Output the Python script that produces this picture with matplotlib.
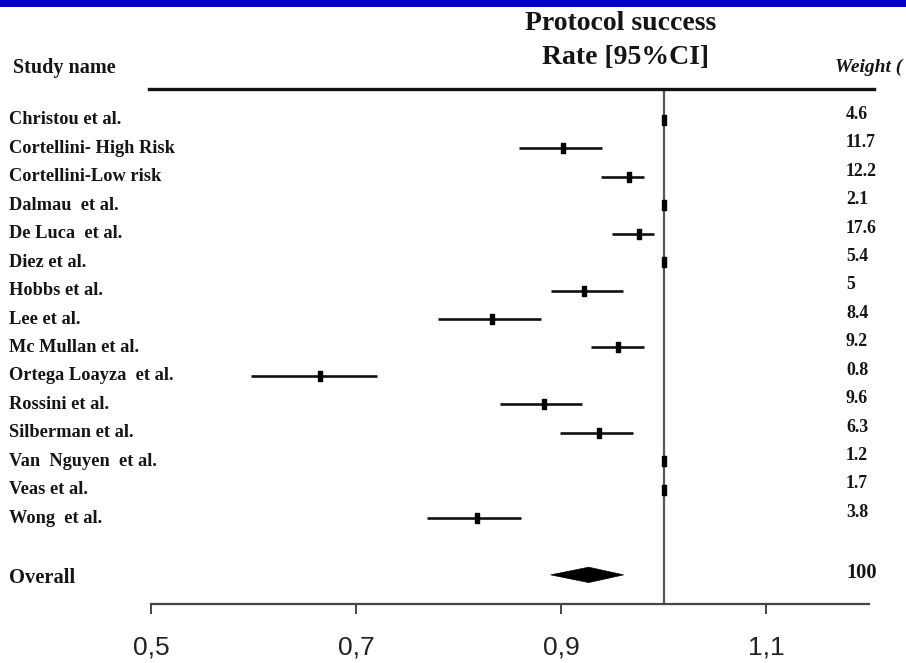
import matplotlib
matplotlib.use("Agg")
import matplotlib.pyplot as plt
import matplotlib.transforms as mtransforms
from matplotlib.path import Path
from matplotlib.patches import Rectangle, Polygon
from matplotlib import font_manager

# ---------------- data ----------------
studies = ["Christou et al.", "Cortellini- High Risk", "Cortellini-Low risk",
           "Dalmau  et al.", "De Luca  et al.", "Diez et al.", "Hobbs et al.",
           "Lee et al.", "Mc Mullan et al.", "Ortega Loayza  et al.",
           "Rossini et al.", "Silberman et al.", "Van  Nguyen  et al.",
           "Veas et al.", "Wong  et al."]
rate = [1.000, 0.902, 0.966, 1.000, 0.976, 1.000, 0.922, 0.833, 0.956,
        0.665, 0.883, 0.937, 1.000, 1.000, 0.818]
ci_low = [1.000, 0.859, 0.939, 1.000, 0.950, 1.000, 0.890, 0.780, 0.929,
          0.598, 0.840, 0.899, 1.000, 1.000, 0.769]
ci_high = [1.000, 0.940, 0.981, 1.000, 0.991, 1.000, 0.960, 0.880, 0.981,
           0.720, 0.920, 0.970, 1.000, 1.000, 0.861]
weights = ["4.6", "11.7", "12.2", "2.1", "17.6", "5.4", "5", "8.4", "9.2",
           "0.8", "9.6", "6.3", "1.2", "1.7", "3.8"]
overall_label = "Overall"
overall_rate, overall_low, overall_high = 0.927, 0.890, 0.961
overall_weight = "100"
xticks = [0.5, 0.7, 0.9, 1.1]
xticklabels = ["0,5", "0,7", "0,9", "1,1"]

# ---------------- fonts ----------------
serif = ["Liberation Serif", "DejaVu Serif"]
names = {f.name for f in font_manager.fontManager.ttflist}
tickfam = ["Liberation Sans Narrow", "Liberation Sans"] if "Liberation Sans Narrow" in names else ["Liberation Sans"]
txtcol = "#151515"

W, H = 906, 663
fig = plt.figure(figsize=(W / 100, H / 100), dpi=100)
fig.patch.set_facecolor("white")

# blue band at the top
fig.patches.append(Rectangle((0, 1 - 7 / H), 1, 7 / H, transform=fig.transFigure,
                             facecolor="#0000BE", edgecolor="none"))

bottom_px, top_px = 604, 89
ppu = 1025
ax = fig.add_axes([0, (H - bottom_px) / H, 1, (bottom_px - top_px) / H])
x_left = 0.5 - 151 / ppu
ax.set_xlim(x_left, x_left + W / ppu)
row0, step = 120, 28.43
ax.set_ylim((bottom_px - row0) / step, (top_px - row0) / step)

for s in ["left", "right"]:
    ax.spines[s].set_visible(False)
ax.spines["top"].set_bounds(0.498, 1.205)
ax.spines["top"].set_linewidth(2.4)
ax.spines["top"].set_color("#111111")
ax.spines["bottom"].set_bounds(0.5, 1.2)
ax.spines["bottom"].set_linewidth(1.6)
ax.spines["bottom"].set_color("#444444")
ax.set_yticks([])
ax.set_xticks(xticks)
ax.set_xticklabels(xticklabels, family=tickfam, fontsize=19, color="#222222")
ax.tick_params(axis="x", direction="out", length=7, width=1.4, color="#444444", pad=16)
ax.set_facecolor("none")

# reference line at 1
ax.axvline(1.0, color="#555555", lw=1.6, zorder=1)

# rectangle marker
rect = Path([(-0.26, -0.5), (0.26, -0.5), (0.26, 0.5), (-0.26, 0.5), (-0.26, -0.5)],
            [Path.MOVETO, Path.LINETO, Path.LINETO, Path.LINETO, Path.CLOSEPOLY])

ys = list(range(len(studies)))
for y, r, lo, hi in zip(ys, rate, ci_low, ci_high):
    if hi > lo:
        ax.plot([lo, hi], [y, y], color="#111111", lw=1.9, solid_capstyle="butt", zorder=2)
    ax.plot([r], [y], marker=rect, markersize=6.8, color="black", zorder=3, linestyle="none")

y_ov = len(studies) + 1
ax.add_patch(Polygon([(overall_low, y_ov), (overall_rate, y_ov - 0.27),
                      (overall_high, y_ov), (overall_rate, y_ov + 0.27)],
                     closed=True, facecolor="black", edgecolor="black", lw=0.5, zorder=3))

# text columns
lab_tr = mtransforms.blended_transform_factory(fig.transFigure, ax.transData)
for y, name, w in zip(ys, studies, weights):
    ax.text(9 / W, y, name, transform=lab_tr, family=serif, weight="bold",
            fontsize=13.2, color=txtcol, va="center", ha="left", clip_on=False)
    ax.text(846 / W, y - 0.2, w, transform=lab_tr, family=serif, weight="bold",
            fontsize=12.8, color=txtcol, va="center", ha="left", clip_on=False)
ax.text(9 / W, y_ov + 0.12, overall_label, transform=lab_tr, family=serif, weight="bold",
        fontsize=14.8, color=txtcol, va="center", ha="left", clip_on=False)
ax.text(846 / W, y_ov - 0.05, overall_weight, transform=lab_tr, family=serif, weight="bold",
        fontsize=14.8, color=txtcol, va="center", ha="left", clip_on=False)

# headers
fig.text(13 / W, 1 - 68 / H, "Study name", family=serif, weight="bold", fontsize=14.5,
         color=txtcol, va="center", ha="left")
fig.text(621 / W, 1 - 23 / H, "Protocol success", family=serif, weight="bold", fontsize=20,
         color=txtcol, va="center", ha="center")
fig.text(625 / W, 1 - 57 / H, "Rate [95%CI]", family=serif, weight="bold", fontsize=20,
         color=txtcol, va="center", ha="center")
fig.text(835 / W, 1 - 67 / H, "Weight (", family=serif, weight="bold", style="italic",
         fontsize=14, color=txtcol, va="center", ha="left")

fig.savefig("out.png", dpi=100, facecolor="white")
